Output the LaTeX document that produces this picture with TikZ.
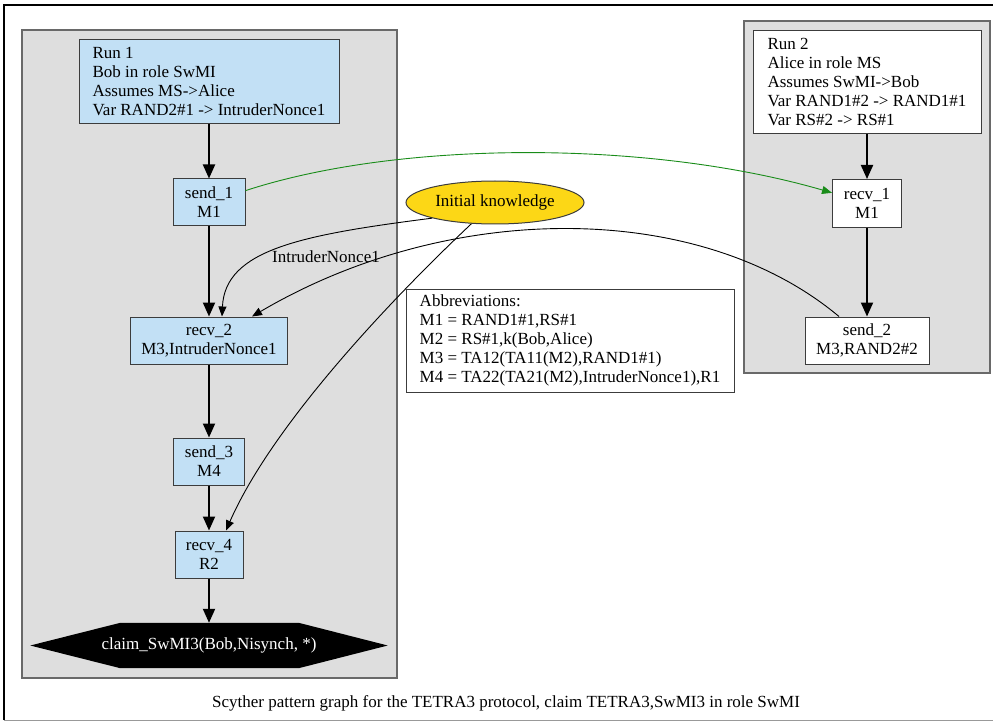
\documentclass[tikz,border=0pt]{standalone}
\usepackage{fontspec}
\setmainfont{Liberation Serif}
\usetikzlibrary{arrows.meta,shapes.geometric,calc}
\definecolor{clfill}{RGB}{222,222,222}
\definecolor{clborder}{RGB}{105,105,105}
\definecolor{nodeblue}{RGB}{194,224,245}
\definecolor{nodeborder}{RGB}{60,60,60}
\definecolor{ikgold}{RGB}{252,215,22}
\definecolor{edgegreen}{RGB}{25,140,25}
\tikzset{
  txt/.style={font=\fontsize{17}{19}\selectfont},
  cluster/.style={draw=clborder, fill=clfill, line width=1.2pt},
  bluebox/.style={txt, draw=nodeborder, fill=nodeblue, line width=1pt, inner sep=0pt, align=center},
  whitebox/.style={txt, draw=nodeborder, fill=white, line width=1pt, inner sep=0pt, align=center},
  thickedge/.style={line width=2pt, -{Triangle[length=14pt,width=12pt]}},
  thinedge/.style={line width=0.9pt, -{Triangle[length=10pt,width=8pt]}},
}
\begin{document}
\begin{tikzpicture}[x=1pt,y=-1pt]
\useasboundingbox (0,0) rectangle (993,722);
% outer frame
\draw[line width=1.5pt] (4,720) -- (4,5) -- (993,5);
\draw[line width=1pt, draw=black!40] (4,720) -- (993,720);
% clusters
\draw[cluster] (22,30) rectangle (397,678);
\draw[cluster] (744,21) rectangle (990,373);
% run 1 nodes
\node[bluebox, align=left, minimum width=260pt, minimum height=84pt] (run1) at (209,82)
  {Run 1\\Bob in role SwMI\\Assumes MS->Alice\\Var RAND2\#1 -> IntruderNonce1};
\node[bluebox, minimum width=72pt, minimum height=47pt] (send1) at (209,202.5) {send\_1\\M1};
\node[bluebox, minimum width=157pt, minimum height=47pt] (recv2) at (209,340.5) {recv\_2\\M3,IntruderNonce1};
\node[bluebox, minimum width=71pt, minimum height=47pt] (send3) at (209,461.5) {send\_3\\M4};
\node[bluebox, minimum width=68pt, minimum height=47pt] (recv4) at (209,554.5) {recv\_4\\R2};
\node[txt, minimum width=357pt, minimum height=45pt, inner sep=0pt] (claim) at (209,645.5) {};
\fill[black] (claim.west) -- ($(claim.north west)+(90,0)$) -- ($(claim.north east)+(-89,0)$)
  -- (claim.east) -- ($(claim.south east)+(-89,0)$) -- ($(claim.south west)+(90,0)$) -- cycle;
\node[txt, text=white] (claimtext) at (claim.center) {claim\_SwMI3(Bob,Nisynch, *)};
% run 2 nodes
\node[whitebox, align=left, minimum width=228pt, minimum height=103pt] (run2) at (867,82.5)
  {Run 2\\Alice in role MS\\Assumes SwMI->Bob\\Var RAND1\#2 -> RAND1\#1\\Var RS\#2 -> RS\#1};
\node[whitebox, minimum width=69pt, minimum height=48pt] (recv1) at (867,203.5) {recv\_1\\M1};
\node[whitebox, minimum width=124pt, minimum height=47pt] (send2) at (867,340.5) {send\_2\\M3,RAND2\#2};
% initial knowledge and abbreviations
\node[txt, ellipse, draw=nodeborder, fill=ikgold, line width=1pt, inner sep=0pt,
  minimum width=178pt, minimum height=43pt] (ik) at (495,202.5) {Initial knowledge};
\node[whitebox, align=left, minimum width=328pt, minimum height=103pt] (abbr) at (570,340.5)
  {Abbreviations:\\M1 = RAND1\#1,RS\#1\\M2 = RS\#1,k(Bob,Alice)\\M3 = TA12(TA11(M2),RAND1\#1)\\M4 = TA22(TA21(M2),IntruderNonce1),R1};
% edges in run 1
\draw[thickedge] (run1) -- (send1);
\draw[thickedge] (send1) -- (recv2);
\draw[thickedge] (recv2) -- (send3);
\draw[thickedge] (send3) -- (recv4);
\draw[thickedge] (recv4) -- (claim);
% edges in run 2
\draw[thickedge] (run2) -- (recv1);
\draw[thickedge] (recv1) -- (send2);
% cross edges
\draw[thinedge, draw=edgegreen] (send1.18) .. controls (400,140) and (650,140) .. (recv1.163);
\draw[thinedge] ($(send2.north)+(-28,0)$) .. controls (700,200) and (450,200) .. ($(recv2.north)+(43,0)$);
\draw[thinedge] (ik.194) .. controls (300,235) and (225,250) .. ($(recv2.north)+(13,0)$);
\node[txt] (lbl) at (326,257) {IntruderNonce1};
\draw[thinedge] (ik.222) .. controls (380,310) and (270,430) .. ($(recv4.north)+(17,0)$);
% caption
\node[txt] (caption) at (506,703) {Scyther pattern graph for the TETRA3 protocol, claim TETRA3,SwMI3 in role SwMI};
\end{tikzpicture}
\end{document}
